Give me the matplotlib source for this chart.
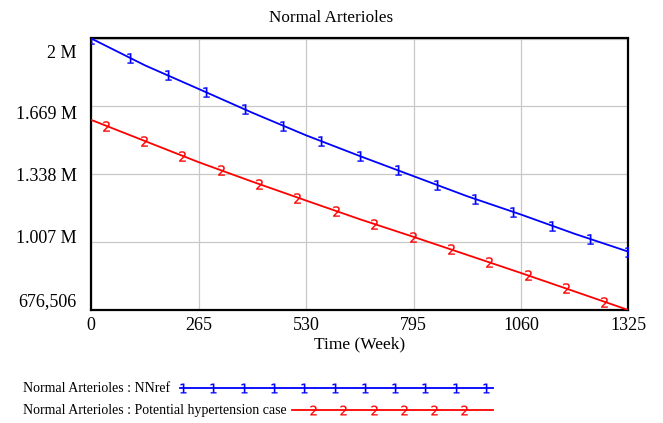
import numpy as np
import matplotlib
matplotlib.use("Agg")
import matplotlib.pyplot as plt
from matplotlib.lines import Line2D
from matplotlib.transforms import ScaledTranslation

# Simulation output (weeks) for the two runs
weeks = [0, 132.5, 265, 397.5, 530, 662.5, 795, 927.5, 1060, 1192.5, 1325]
nnref = [2000000, 1869000, 1754000, 1638000, 1528000, 1427000,
         1329000, 1231000, 1142000, 1048000, 961000]
hypertension = [1603000, 1500000, 1397000, 1302000, 1210000, 1119000,
                1033000, 945000, 857000, 767000, 676506]

series_names = ["Normal Arterioles : NNref",
                "Normal Arterioles : Potential hypertension case"]
series_tags = ["1", "2"]
series_colors = ["#0000ff", "#ff0000"]

title = "Normal Arterioles"
x_label = "Time (Week)"
x_ticks = [0, 265, 530, 795, 1060, 1325]
y_ticks = [676506, 1007379, 1338253, 1669126, 2000000]
y_tick_labels = ["676,506", "1.007 M", "1.338 M", "1.669 M", "2 M"]

serif = ["Liberation Serif", "DejaVu Serif"]
W, H = 663, 423
fig = plt.figure(figsize=(W / 100, H / 100), dpi=100)
ax = fig.add_axes([91.3 / W, 1 - 310 / H, (628.3 - 91.3) / W, (310 - 38.5) / H])

t = np.array(weeks, dtype=float)
for vals, tag, col, start in [(nnref, "1", series_colors[0], 0.0),
                              (hypertension, "2", series_colors[1], 35.5)]:
    v = np.array(vals, dtype=float)
    ax.plot(t, v, color=col, lw=1.3, zorder=3)
    mt = np.arange(start, 1325.01, 1325 / 14)
    ax.plot(mt, np.interp(mt, t, v), ls="none", marker=r"$\mathsf{%s}$" % tag,
            ms=7.5, color=col, mew=0.15, zorder=4)

ax.set_xlim(0, 1325)
ax.set_ylim(676506, 2000000)
ax.set_xticks(x_ticks)
ax.set_xticklabels([str(v) for v in x_ticks], family=serif, fontsize=13)
ax.set_yticks(y_ticks)
ax.set_yticklabels(y_tick_labels, family=serif, fontsize=13)
ax.tick_params(axis="both", length=0)
ax.tick_params(axis="y", pad=10.5)
ax.tick_params(axis="x", pad=5)
ax.grid(True, color="#c8c8c8", lw=0.9)
for s in ax.spines.values():
    s.set_linewidth(1.6)
    s.set_color("black")

# spread the y labels slightly inward, as the source tool does
shifts = [-10.7, -6.0, 0.0, 6.3, 13.2]
for lab, dy in zip(ax.get_yticklabels(), shifts):
    lab.set_transform(lab.get_transform() + ScaledTranslation(0, -dy / 100, fig.dpi_scale_trans))

ax.set_xlabel(x_label, family=serif, fontsize=12.5, labelpad=2)
fig.text(0.5, 1 - 18 / H, title, ha="center", va="center", family=serif, fontsize=12.3)

# legend rows underneath the plot
rows = [(388, 180, 183, 11), (410, 292, 313, 6)]
for name, tag, col, (yy, x0, m0, n) in zip(series_names, series_tags, series_colors, rows):
    fig.text(23.3 / W, 1 - yy / H, name, ha="left", va="center", family=serif, fontsize=10)
    fig.add_artist(Line2D([x0 / W, 493 / W], [1 - yy / H, 1 - yy / H],
                          transform=fig.transFigure, color=col, lw=1.3))
    mx = (m0 + 30.3 * np.arange(n)) / W
    fig.add_artist(Line2D(mx, np.full(n, 1 - yy / H), transform=fig.transFigure,
                          ls="none", marker=r"$\mathsf{%s}$" % tag, ms=7, color=col, mew=0.15))

fig.savefig("out.png", dpi=100)
